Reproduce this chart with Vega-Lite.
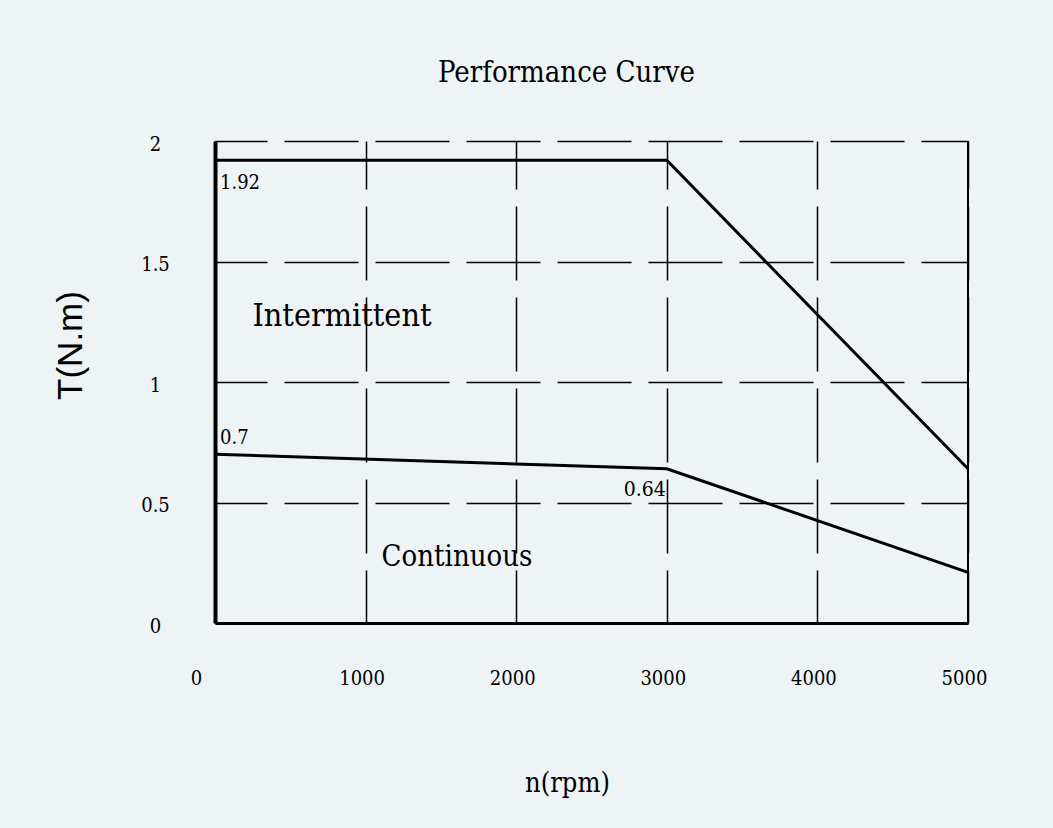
{
  "$schema": "https://vega.github.io/schema/vega-lite/v6.json",
  "width": 753,
  "height": 482,
  "autosize": "none",
  "padding": {"left": 215, "top": 141, "right": 85, "bottom": 205},
  "background": "#eef3f6",
  "title": {
    "text": "Performance Curve",
    "font": "DejaVu Serif Condensed",
    "fontSize": 29,
    "fontWeight": "normal",
    "color": "#000000",
    "anchor": "middle",
    "dx": -25,
    "offset": 46
  },
  "config": {
    "view": {"stroke": null},
    "axis": {
      "labelFont": "DejaVu Serif Condensed",
      "labelFontSize": 20,
      "labelColor": "#000000",
      "ticks": false,
      "tickSize": 0,
      "gridColor": "#000000",
      "gridWidth": 1.5,
      "gridOpacity": 1,
      "gridDash": [74, 17],
      "domainColor": "#000000"
    }
  },
  "datasets": {
    "curves": [
      {"n": 0, "T": 1.92, "curve": "Intermittent"},
      {"n": 3000, "T": 1.92, "curve": "Intermittent"},
      {"n": 5000, "T": 0.64, "curve": "Intermittent"},
      {"n": 0, "T": 0.7, "curve": "Continuous"},
      {"n": 3000, "T": 0.64, "curve": "Continuous"},
      {"n": 5000, "T": 0.21, "curve": "Continuous"}
    ],
    "border": [{"n": 5000}],
    "valueLabels": [
      {"n": 0, "T": 1.92, "label": "1.92", "pos": "below"},
      {"n": 0, "T": 0.7, "label": "0.7", "pos": "above"}
    ],
    "rightLabels": [
      {"n": 3000, "T": 0.64, "label": "0.64"}
    ],
    "regionLabels": [
      {"n": 843, "T": 1.274, "label": "Intermittent"},
      {"n": 1607, "T": 0.274, "label": "Continuous"}
    ]
  },
  "layer": [
    {
      "data": {"name": "curves"},
      "mark": {"type": "line", "color": "#000000", "strokeWidth": 3},
      "encoding": {
        "x": {
          "field": "n",
          "type": "quantitative",
          "scale": {"domain": [0, 5000], "nice": false, "zero": false},
          "axis": {
            "values": [0, 1000, 2000, 3000, 4000, 5000],
            "title": "n(rpm)",
            "titleFont": "DejaVu Serif Condensed",
            "titleFontSize": 27,
            "titleFontWeight": "normal",
            "titleColor": "#000000",
            "titleX": 352,
            "titleY": 160,
            "titleAlign": "center",
            "titleBaseline": "middle",
            "titleAnchor": null,
            "labelPadding": 55,
            "labelBaseline": "middle",
            "labelFlush": false,
            "labelOffset": {"condition": {"test": "datum.value == 0", "value": -19}, "value": -4},
            "domainWidth": 3,
            "gridDashOffset": 26,
            "format": "d"
          }
        },
        "y": {
          "field": "T",
          "type": "quantitative",
          "scale": {"domain": [0, 2], "nice": false, "zero": false},
          "axis": {
            "values": [0, 0.5, 1, 1.5, 2],
            "format": "~g",
            "title": "T(N.m)",
            "titleFont": "Liberation Sans",
            "titleFontSize": 35,
            "titleFontWeight": "normal",
            "titleColor": "#000000",
            "titleAngle": 270,
            "titleX": -145,
            "titleY": 204,
            "titleAlign": "center",
            "titleBaseline": "middle",
            "titleAnchor": null,
            "labelAlign": "center",
            "labelBaseline": "middle",
            "labelPadding": 60,
            "labelOffset": 3,
            "labelFlush": false,
            "domainWidth": 4,
            "gridDashOffset": 22
          }
        },
        "detail": {"field": "curve"}
      }
    },
    {
      "data": {"name": "border"},
      "mark": {"type": "rule", "color": "#000000", "strokeWidth": 2},
      "encoding": {"x": {"field": "n", "type": "quantitative"}}
    },
    {
      "data": {"name": "valueLabels"},
      "transform": [{"filter": "datum.pos == 'below'"}],
      "mark": {"type": "text", "font": "DejaVu Serif Condensed", "fontSize": 20, "color": "#000000", "align": "left", "baseline": "middle", "dx": 5, "dy": 23},
      "encoding": {
        "x": {"field": "n", "type": "quantitative"},
        "y": {"field": "T", "type": "quantitative"},
        "text": {"field": "label"}
      }
    },
    {
      "data": {"name": "valueLabels"},
      "transform": [{"filter": "datum.pos == 'above'"}],
      "mark": {"type": "text", "font": "DejaVu Serif Condensed", "fontSize": 20, "color": "#000000", "align": "left", "baseline": "middle", "dx": 5, "dy": -16},
      "encoding": {
        "x": {"field": "n", "type": "quantitative"},
        "y": {"field": "T", "type": "quantitative"},
        "text": {"field": "label"}
      }
    },
    {
      "data": {"name": "rightLabels"},
      "mark": {"type": "text", "font": "DejaVu Serif Condensed", "fontSize": 21, "color": "#000000", "align": "right", "baseline": "middle", "dx": -1, "dy": 21},
      "encoding": {
        "x": {"field": "n", "type": "quantitative"},
        "y": {"field": "T", "type": "quantitative"},
        "text": {"field": "label"}
      }
    },
    {
      "data": {"name": "regionLabels"},
      "mark": {"type": "text", "font": "DejaVu Serif Condensed", "color": "#000000", "align": "center", "baseline": "middle"},
      "encoding": {
        "x": {"field": "n", "type": "quantitative"},
        "y": {"field": "T", "type": "quantitative"},
        "size": {"condition": {"test": "datum.label == 'Intermittent'", "value": 32}, "value": 29},
        "text": {"field": "label"}
      }
    }
  ]
}
